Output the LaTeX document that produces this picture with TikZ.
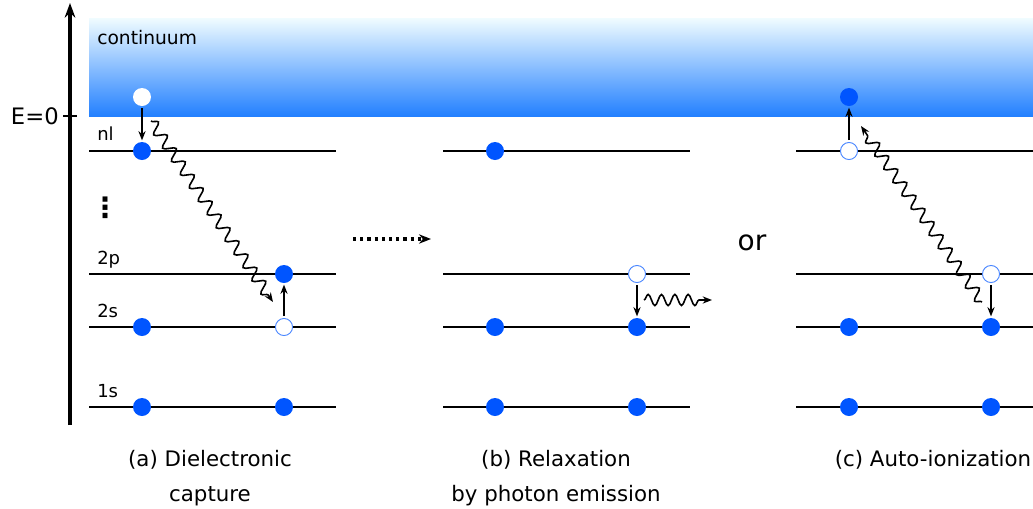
\documentclass[tikz,border=0pt]{standalone}
\usepackage{fontspec}
\setmainfont{DejaVu Sans}
\usetikzlibrary{decorations.pathmorphing,arrows.meta}
\definecolor{eblue}{RGB}{0,85,255}
\definecolor{ctop}{RGB}{240,252,255}
\definecolor{cmid}{RGB}{145,210,255}
\definecolor{cbot}{RGB}{35,128,255}

\begin{document}
\begin{tikzpicture}[x=0.75pt,y=-0.75pt,>={Stealth[length=7pt,width=5.4pt]},
    every node/.style={inner sep=0pt},
    full/.style={circle,fill=eblue,minimum size=13.5pt},
    hole/.style={circle,draw=eblue!70,fill=white,minimum size=12.8pt,line width=0.7pt},
    jump/.style={->,line width=1.2pt,shorten <=1.5pt,shorten >=1pt},
    photon/.style={->,line width=1.2pt,decorate,
      decoration={snake,amplitude=4.2pt,segment length=12pt,post length=6pt}},
    lvl/.style={font=\fontsize{13.5}{13.5}\selectfont,anchor=base west},
    caption/.style={font=\fontsize{16}{26}\selectfont,align=center,anchor=north}]
  \useasboundingbox (0,0) rectangle (1033,508);
  % continuum band
  \shade[top color=ctop,middle color=cmid,bottom color=cbot] (89,18) rectangle (1033,116);
  \node[font=\fontsize{14}{14}\selectfont,anchor=base west] (cont) at (97,44) {continuum};
  % energy axis
  \coordinate (axbot) at (70,425);
  \coordinate (axtop) at (70,3);
  \draw[line width=2.6pt,-{Stealth[length=11pt,width=8pt]}] (axbot) -- (axtop);
  \coordinate (tickl) at (63,116);
  \coordinate (tickr) at (77,116);
  \draw[line width=1.6pt] (tickl) -- (tickr);
  \node[font=\fontsize{17}{17}\selectfont,anchor=east] (ezero) at (59,116) {E=0};
  % levels, three panels
  \foreach \x in {89,443,796}
    \foreach \y in {151,274,327,407}
      \draw[line width=1.8pt] (\x,\y) -- ++(247,0);
  \node[lvl] (nl) at (97,140) {nl};
  \node[font=\fontsize{21}{21}\selectfont\bfseries] (dots) at (105,208) {⋮};
  \node[lvl] (p2) at (97,264) {2p};
  \node[lvl] (s2) at (97,317) {2s};
  \node[lvl] (s1) at (97,397) {1s};
  % 1s shells, all full
  \foreach \x/\n in {142/a1,284/a2,495/b1,637/b2,849/c1,991/c2}
    \node[full] (\n) at (\x,407) {};

  % (a) dielectronic capture
  \node[circle,fill=white,minimum size=13.5pt] (afree) at (142,97) {};
  \node[full] (anl) at (142,151) {};
  \node[full] (a2p) at (284,274) {};
  \node[full] (a2sl) at (142,327) {};
  \node[hole] (a2s) at (284,327) {};
  \draw[jump] (afree) -- (anl);
  \draw[jump] (a2s) -- (a2p);
  \coordinate (awav0) at (151,121);
  \coordinate (awav1) at (273,302);
  \draw[photon] (awav0) -- (awav1);

  \coordinate (go0) at (353,239);
  \coordinate (go1) at (431,239);
  \draw[line width=2.4pt,dash pattern=on 2.4pt off 3pt,
    -{Stealth[length=9pt,width=7pt]}] (go0) -- (go1);

  % (b) relaxation
  \node[full] (bnl) at (495,151) {};
  \node[hole] (b2p) at (637,274) {};
  \node[full] (b2sl) at (495,327) {};
  \node[full] (b2s) at (637,327) {};
  \draw[jump] (b2p) -- (b2s);
  \coordinate (bwav0) at (644,300);
  \coordinate (bwav1) at (712,300);
  \draw[photon,decoration={segment length=10pt}] (bwav0) -- (bwav1);

  \node[font=\fontsize{21}{21}\selectfont] (or) at (752,243) {or};

  % (c) auto-ionization
  \node[full] (cfree) at (849,97) {};
  \node[hole] (cnl) at (849,151) {};
  \node[hole] (c2p) at (991,274) {};
  \node[full] (c2sl) at (849,327) {};
  \node[full] (c2s) at (991,327) {};
  \draw[jump] (cnl) -- (cfree);
  \draw[jump] (c2p) -- (c2s);
  \coordinate (cwav0) at (982,302);
  \coordinate (cwav1) at (861,126);
  \draw[photon] (cwav0) -- (cwav1);

  % captions
  \node[caption] (capa) at (210,450) {(a) Dielectronic\\capture};
  \node[caption] (capb) at (556,450) {(b) Relaxation\\by photon emission};
  \node[caption] (capc) at (933,450) {(c) Auto-ionization};
\end{tikzpicture}
\end{document}
